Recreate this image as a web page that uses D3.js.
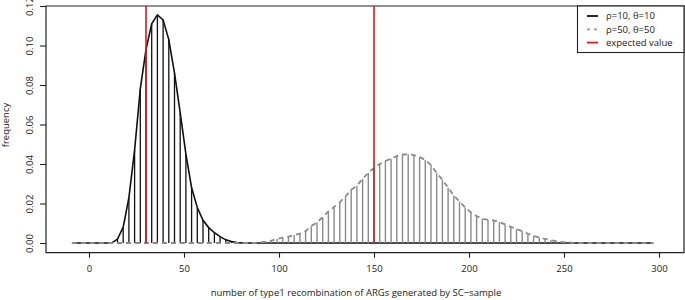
<!DOCTYPE html>
<html>
<head>
<meta charset="utf-8">
<script src="https://cdn.jsdelivr.net/npm/d3@7"></script>
<style>
  body { margin: 0; background: #fff; }
  svg text { font-family: "Open Sans", sans-serif; font-size: 9.5px; fill: #222; }
</style>
</head>
<body>
<div id="chart-area"></div>
<script>
// SVG Size
let width = 685,
	height = 300;

// number of type1 recombination (bin positions)
let counts = [
	-9, -6, -3, 0, 3, 6, 9, 12, 15, 18,
	21, 24, 27, 30, 33, 36, 39, 42, 45, 48,
	51, 54, 57, 60, 63, 66, 69, 72, 75, 78,
	81, 84, 87, 90, 93, 96, 99, 102, 105, 108,
	111, 114, 117, 120, 123, 126, 129, 132, 135, 138,
	141, 144, 147, 150, 153, 156, 159, 162, 165, 168,
	171, 174, 177, 180, 183, 186, 189, 192, 195, 198,
	201, 204, 207, 210, 213, 216, 219, 222, 225, 228,
	231, 234, 237, 240, 243, 246, 249, 252, 255, 258,
	261, 264, 267, 270, 273, 276, 279, 282, 285, 288,
	291, 294, 297
];

// rho=10, theta=10
let freqLow = [
	0, 0, 0, 0, 0, 0, 0, 0, 0.002, 0.008,
	0.023, 0.047, 0.078, 0.098, 0.111, 0.1155, 0.113, 0.103, 0.086, 0.066,
	0.045, 0.028, 0.018, 0.0115, 0.0078, 0.0052, 0.0032, 0.0016, 0.0007, 0.0002,
	0, 0, 0, 0, 0, 0, 0, 0, 0, 0,
	0, 0, 0, 0, 0, 0, 0, 0, 0, 0,
	0, 0, 0, 0, 0, 0, 0, 0, 0, 0,
	0, 0, 0, 0, 0, 0, 0, 0, 0, 0,
	0, 0, 0, 0, 0, 0, 0, 0, 0, 0,
	0, 0, 0, 0, 0, 0, 0, 0, 0, 0,
	0, 0, 0, 0, 0, 0, 0, 0, 0, 0,
	0, 0, 0
];

// rho=50, theta=50
let freqHigh = [
	0, 0, 0, 0, 0, 0, 0, 0, 0, 0,
	0, 0, 0, 0, 0, 0, 0, 0, 0, 0,
	0, 0, 0, 0, 0, 0, 0, 0, 0, 0,
	0, 0, 0, 0.0003, 0.0007, 0.0012, 0.002, 0.0027, 0.0032, 0.004,
	0.0048, 0.006, 0.0085, 0.0105, 0.013, 0.016, 0.0183, 0.0207, 0.0235, 0.027,
	0.029, 0.0325, 0.0355, 0.038, 0.040, 0.0415, 0.0427, 0.044, 0.0448, 0.0449,
	0.0445, 0.0436, 0.042, 0.0395, 0.0355, 0.032, 0.028, 0.024, 0.021, 0.018,
	0.0155, 0.0137, 0.0123, 0.0117, 0.0114, 0.0106, 0.0094, 0.0082, 0.007, 0.006,
	0.0047, 0.0036, 0.0028, 0.0021, 0.0014, 0.0009, 0.0005, 0.0003, 0.0001, 0,
	0, 0, 0, 0, 0, 0, 0, 0, 0, 0,
	0, 0, 0
];

let expected = [30, 150];
let xTicks = [0, 50, 100, 150, 200, 250, 300];
let yTicks = [0, 0.02, 0.04, 0.06, 0.08, 0.10, 0.12];
let legendLabels = ["ρ=10, θ=10", "ρ=50, θ=50", "expected value"];

let lowData = counts.map((c, i) => ({x: c, y: freqLow[i]}));
let highData = counts.map((c, i) => ({x: c, y: freqHigh[i]}));

let xScale = d3.scaleLinear()
	.domain([0, 300])
	.range([89, 659]);

let yScale = d3.scaleLinear()
	.domain([0, 0.12])
	.range([243, 6]);

let plotLeft = 46, plotRight = 684,
	plotTop = yScale(0.12), plotBottom = 252.7;

let svg = d3.select("#chart-area")
	.append("svg")
	.attr("width", width)
	.attr("height", height);

// box
svg.append("path")
	.attr("d", `M${plotLeft},${plotTop}H${plotRight}V${plotBottom}H${plotLeft}Z`)
	.attr("fill", "none")
	.attr("stroke", "#222")
	.attr("stroke-width", 1.2);

// axes (R style: labels below / rotated on the left)
let xAxis = d3.axisBottom(xScale)
	.tickValues(xTicks)
	.tickFormat(d3.format("d"))
	.tickSize(5)
	.tickPadding(8);

let yAxis = d3.axisLeft(yScale)
	.tickValues(yTicks)
	.tickFormat(d3.format(".2f"))
	.tickSize(6);

let gx = svg.append("g")
	.attr("class", "axis x-axis")
	.attr("transform", "translate(0," + plotBottom + ")")
	.call(xAxis);
gx.select(".domain").remove();
gx.selectAll(".tick line").attr("stroke", "#222").attr("stroke-width", 1.1);
gx.selectAll(".tick text").attr("font-size", null).attr("font-family", null);

let gy = svg.append("g")
	.attr("class", "axis y-axis")
	.attr("transform", "translate(" + plotLeft + ",0)")
	.call(yAxis);
gy.select(".domain").remove();
gy.selectAll(".tick line").attr("stroke", "#222").attr("stroke-width", 1.1);
gy.selectAll(".tick text")
	.attr("font-size", null).attr("font-family", null)
	.attr("x", 0).attr("dy", null)
	.attr("text-anchor", "middle")
	.attr("transform", "translate(-13,0) rotate(-90)");

// axis titles
svg.append("text")
	.attr("x", 356)
	.attr("y", 296)
	.attr("text-anchor", "middle")
	.text("number of type1 recombination of ARGs generated by SC\u2212sample");

svg.append("text")
	.attr("transform", "translate(9,125) rotate(-90)")
	.attr("text-anchor", "middle")
	.text("frequency");

let line = d3.line()
	.x(d => xScale(d.x))
	.y(d => yScale(d.y));

// rho=10 spikes + curve
svg.selectAll(".bar-low")
	.data(lowData)
	.enter()
	.append("line")
	.attr("class", "bar-low")
	.attr("x1", d => xScale(d.x))
	.attr("x2", d => xScale(d.x))
	.attr("y1", yScale(0))
	.attr("y2", d => yScale(d.y))
	.attr("stroke", "#111")
	.attr("stroke-width", 1.3);

svg.append("path")
	.datum(lowData)
	.attr("d", line)
	.attr("fill", "none")
	.attr("stroke", "#111")
	.attr("stroke-width", 1.6);

// rho=50 spikes + dashed curve
svg.selectAll(".bar-high")
	.data(highData)
	.enter()
	.append("line")
	.attr("class", "bar-high")
	.attr("x1", d => xScale(d.x))
	.attr("x2", d => xScale(d.x))
	.attr("y1", yScale(0))
	.attr("y2", d => yScale(d.y))
	.attr("stroke", "#8a8a8a")
	.attr("stroke-width", 1.4);

svg.append("path")
	.datum(highData)
	.attr("d", line)
	.attr("fill", "none")
	.attr("stroke", "#8a8a8a")
	.attr("stroke-width", 1.8)
	.attr("stroke-dasharray", "5,4");

// expected values
svg.selectAll(".expected")
	.data(expected)
	.enter()
	.append("line")
	.attr("class", "expected")
	.attr("x1", d => xScale(d))
	.attr("x2", d => xScale(d))
	.attr("y1", yScale(0))
	.attr("y2", yScale(0.12))
	.attr("stroke", "#d7191c")
	.attr("stroke-width", 1.6);

// legend
let legend = svg.append("g");
legend.append("rect")
	.attr("x", 577.5)
	.attr("y", plotTop)
	.attr("width", plotRight - 577.5)
	.attr("height", 46.5)
	.attr("fill", "#fff")
	.attr("stroke", "#222")
	.attr("stroke-width", 1.1);

let legendStyles = [
	{color: "#111", dash: null},
	{color: "#999", dash: "3,4"},
	{color: "#d7191c", dash: null}
];

legendLabels.forEach((label, i) => {
	let yy = 16 + i * 13.3;
	legend.append("line")
		.attr("x1", 587).attr("x2", 598)
		.attr("y1", yy).attr("y2", yy)
		.attr("stroke", legendStyles[i].color)
		.attr("stroke-width", 1.8)
		.attr("stroke-dasharray", legendStyles[i].dash);
	legend.append("text")
		.attr("x", 606)
		.attr("y", yy)
		.attr("dy", "0.35em")
		.text(label);
});
</script>
</body>
</html>
